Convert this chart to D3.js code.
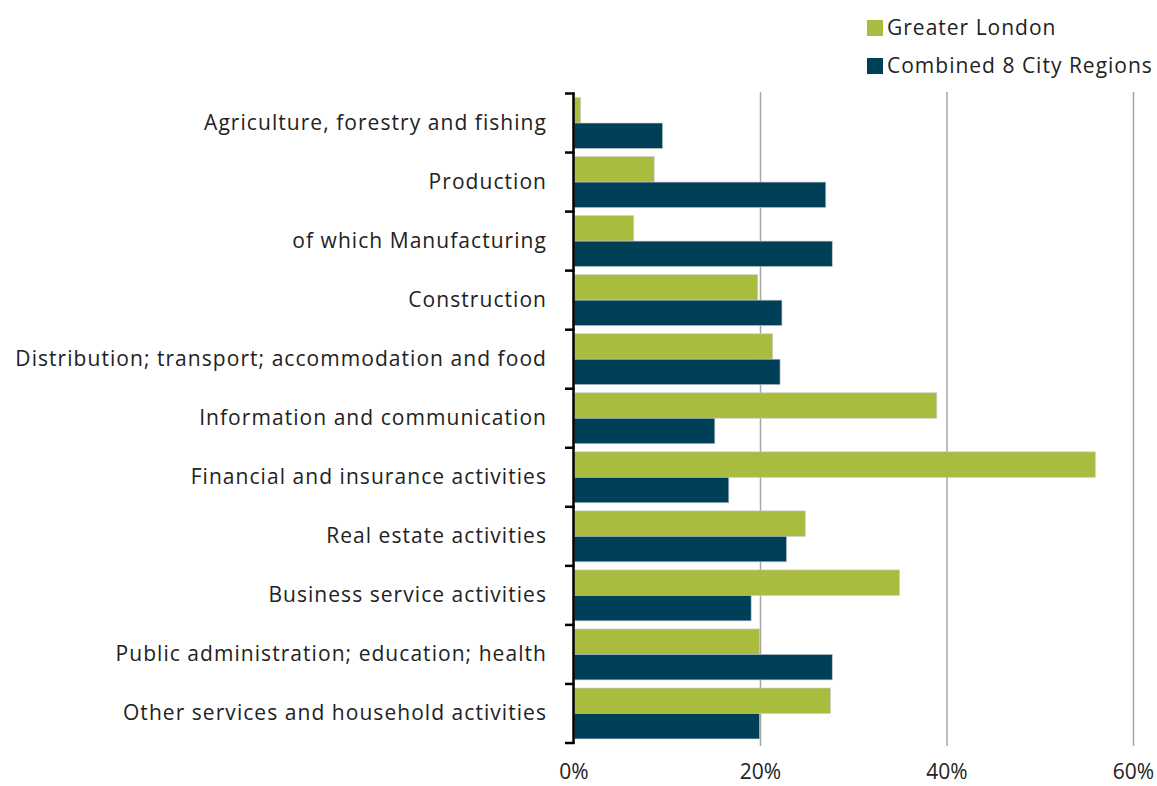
<!DOCTYPE html>
<html>
<head>
<meta charset="utf-8">
<script src="https://cdn.jsdelivr.net/npm/d3@7"></script>
<style>
  html, body { margin: 0; padding: 0; background: #fff; }
  svg text { font-family: "Open Sans", "Noto Sans", sans-serif; fill: #222; }
</style>
</head>
<body>
<svg id="chart" width="1157" height="786"></svg>
<script>
// Industry categories (top to bottom)
const categories = [
  "Agriculture, forestry and fishing",
  "Production",
  "of which Manufacturing",
  "Construction",
  "Distribution; transport; accommodation and food",
  "Information and communication",
  "Financial and insurance activities",
  "Real estate activities",
  "Business service activities",
  "Public administration; education; health",
  "Other services and household activities"
];

const seriesNames = ["Greater London", "Combined 8 City Regions"];

// Share values (%) for each series
const greaterLondon = [0.7, 8.6, 6.4, 19.7, 21.3, 38.9, 55.9, 24.8, 34.9, 19.9, 27.5];
const combinedCityRegions = [9.5, 27.0, 27.7, 22.3, 22.1, 15.1, 16.6, 22.8, 19.0, 27.7, 19.9];

const xTicks = [0, 20, 40, 60];
const xTickLabels = ["0%", "20%", "40%", "60%"];

const colors = ["#a9bc3d", "#003f58"];

const svg = d3.select("#chart");

const x = d3.scaleLinear().domain([0, 60]).range([574, 1133.5]);
const y = d3.scaleBand().domain(categories).range([93.5, 743]).padding(0);
const ySub = d3.scaleBand().domain(seriesNames).range([0, y.bandwidth()])
  .paddingInner(0).paddingOuter(0.16);

// Vertical gridlines
svg.append("g")
  .selectAll("line")
  .data(xTicks.filter(d => d > 0))
  .join("line")
  .attr("x1", d => x(d)).attr("x2", d => x(d))
  .attr("y1", 92).attr("y2", 746)
  .attr("stroke", "#a6a6a6")
  .attr("stroke-width", 1.5);

// Bars
const rows = categories.map((c, i) => ({
  cat: c,
  vals: [greaterLondon[i], combinedCityRegions[i]]
}));

const rowG = svg.append("g")
  .selectAll("g")
  .data(rows)
  .join("g")
  .attr("transform", d => `translate(0,${y(d.cat)})`);

rowG.selectAll("rect")
  .data(d => d.vals.map((v, j) => ({ v, s: seriesNames[j], j })))
  .join("rect")
  .attr("x", x(0))
  .attr("y", d => ySub(d.s))
  .attr("width", d => x(d.v) - x(0))
  .attr("height", ySub.bandwidth())
  .attr("fill", d => colors[d.j])
  .attr("stroke", "#c4c9cc")
  .attr("stroke-width", 0.8)
  .attr("stroke-opacity", 0.8);

// Category axis: line with ticks at band boundaries
const boundaries = categories.map(c => y(c)).concat([y.range()[1]]);
const axisG = svg.append("g");
axisG.append("line")
  .attr("x1", 573.5).attr("x2", 573.5)
  .attr("y1", boundaries[0] - 1).attr("y2", boundaries[boundaries.length - 1] + 1)
  .attr("stroke", "#000").attr("stroke-width", 2.5);
axisG.selectAll("line.tick")
  .data(boundaries)
  .join("line")
  .attr("class", "tick")
  .attr("x1", 565).attr("x2", 574.5)
  .attr("y1", d => d).attr("y2", d => d)
  .attr("stroke", "#000").attr("stroke-width", 2.5);

// Category labels
svg.append("g")
  .selectAll("text")
  .data(categories)
  .join("text")
  .attr("x", 547)
  .attr("y", d => y(d) + y.bandwidth() / 2 + 7)
  .attr("text-anchor", "end")
  .attr("font-size", 21)
  .attr("letter-spacing", 1.05)
  .text(d => d);

// Value axis labels
svg.append("g")
  .selectAll("text")
  .data(xTicks)
  .join("text")
  .attr("x", d => x(d))
  .attr("y", 779)
  .attr("text-anchor", "middle")
  .attr("font-size", 21)
  .text((d, i) => xTickLabels[i]);

// Legend
const legend = svg.append("g").attr("transform", "translate(867,20)");
const li = legend.selectAll("g")
  .data(seriesNames)
  .join("g")
  .attr("transform", (d, i) => `translate(0,${i * 38})`);
li.append("rect")
  .attr("width", 16).attr("height", 16)
  .attr("fill", (d, i) => colors[i]);
li.append("text")
  .attr("x", 20).attr("y", 15)
  .attr("font-size", 21)
  .attr("letter-spacing", 1.0)
  .text(d => d);
</script>
</body>
</html>
